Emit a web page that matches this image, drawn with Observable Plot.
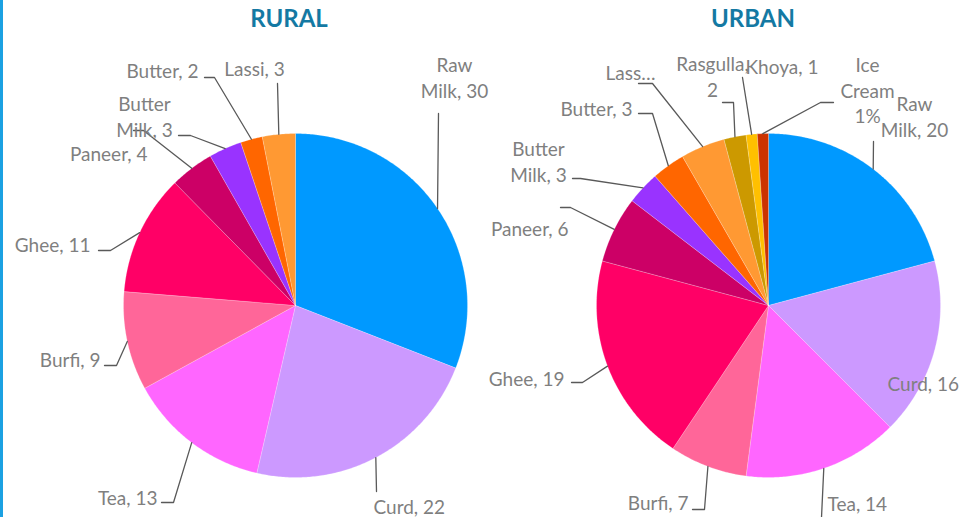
<!DOCTYPE html>
<html><head><meta charset="utf-8">
<script src="https://cdn.jsdelivr.net/npm/d3@7"></script>
<script src="https://cdn.jsdelivr.net/npm/@observablehq/plot@0.6"></script>
<style>
html,body{margin:0;padding:0;background:#fff;}
#wrap{position:relative;width:961px;height:517px;overflow:hidden;}
#edge{position:absolute;left:0;top:0;width:3px;height:517px;background:#1ba1e2;}
#wrap svg{position:absolute;left:0;top:0;}
</style></head><body><div id="wrap"><div id="edge"></div></div>
<script>
// ---- data ----
const panelTitles = ["RURAL", "URBAN"];
const ruralCategories = ["Raw Milk","Curd","Tea","Burfi","Ghee","Paneer","Butter Milk","Butter","Lassi"];
const ruralValues = [30,22,13,9,11,4,3,2,3];
const ruralLabels = ["Raw\nMilk, 30","Curd, 22","Tea, 13","Burfi, 9","Ghee, 11","Paneer, 4","Butter\nMilk, 3","Butter, 2","Lassi, 3"];
const urbanCategories = ["Raw Milk","Curd","Tea","Burfi","Ghee","Paneer","Butter Milk","Butter","Lassi","Rasgulla","Khoya","Ice Cream"];
const urbanValues = [20,16,14,7,19,6,3,3,4,2,1,1];
const urbanLabels = ["Raw\nMilk, 20","Curd, 16","Tea, 14","Burfi, 7","Ghee, 19","Paneer, 6","Butter\nMilk, 3","Butter, 3","Lass…","Rasgulla,\n2","Khoya, 1","Ice\nCream\n1%"];

// ---- styles ----
const categoryColors = {
  "Raw Milk":"#0099ff","Curd":"#cc99ff","Tea":"#ff66ff","Burfi":"#ff6699","Ghee":"#ff0066",
  "Paneer":"#cc0066","Butter Milk":"#9933ff","Butter":"#ff6600","Lassi":"#ff9933",
  "Rasgulla":"#cc9900","Khoya":"#ffc000","Ice Cream":"#cc3300"
};
const FONT = "Lato, 'Open Sans', sans-serif";
const LABEL_SIZE = 19, TITLE_SIZE = 24;

// ---- layout (pie placement and Excel-style label placement) ----
const ruralLabelLayout = [
  {x:454, y:76, anchor:"middle", lx:438, ly:113, stub:0},
  {x:373, y:505, anchor:"start", lx:376, ly:491, stub:0},
  {x:157, y:496, anchor:"end", lx:161, ly:502, stub:12},
  {x:100, y:358, anchor:"end", lx:104, ly:365, stub:12},
  {x:90, y:243, anchor:"end", lx:98, ly:250, stub:12},
  {x:147, y:152, anchor:"end", lx:133, ly:130, stub:10},
  {x:144, y:115.5, anchor:"middle", lx:178, ly:135, stub:12},
  {x:198, y:69, anchor:"end", lx:204, ly:77, stub:10},
  {x:254, y:67, anchor:"middle", lx:277, ly:83, stub:0}
];
const urbanLabelLayout = [
  {x:914, y:115, anchor:"middle", lx:873, ly:141, stub:0},
  {x:887, y:382, anchor:"start", lx:null},
  {x:827, y:502, anchor:"start", lx:821, ly:517, stub:0},
  {x:688, y:501, anchor:"end", lx:692, ly:509, stub:12},
  {x:564, y:377, anchor:"end", lx:571, ly:382, stub:11},
  {x:568, y:227, anchor:"end", lx:560, ly:207, stub:10},
  {x:538, y:160.5, anchor:"middle", lx:572, ly:178, stub:8},
  {x:632, y:107, anchor:"end", lx:638, ly:113, stub:14},
  {x:655, y:71, anchor:"end", lx:638, ly:83, stub:14},
  {x:712, y:75.5, anchor:"middle", lx:722, ly:102, stub:11},
  {x:745, y:65, anchor:"start", lx:742, ly:77, stub:0},
  {x:867, y:89, anchor:"middle", lx:833, ly:102, stub:-13}
];
const pies = [
  {title:panelTitles[0], cats:ruralCategories, values:ruralValues, labels:ruralLabels, layout:ruralLabelLayout, cx:295, cy:305, r:172, tx:288.5, ty:19},
  {title:panelTitles[1], cats:urbanCategories, values:urbanValues, labels:urbanLabels, layout:urbanLabelLayout, cx:768, cy:305, r:172, tx:752.5, ty:19}
];

// ---- build mark data from the values ----
const slices = [], leaders = [], texts = [], titles = [];
pies.forEach((p, pi) => {
  titles.push({x:p.tx, y:p.ty, text:p.title});
  const arcs = d3.pie().sort(null).value(d => d)(p.values);
  arcs.forEach((a, i) => {
    const key = pi + "-" + i;
    const fill = categoryColors[p.cats[i]];
    const n = Math.max(2, Math.ceil((a.endAngle - a.startAngle) / 0.01));
    slices.push({key, fill, x:p.cx, y:p.cy});
    for (let k = 0; k <= n; k++) {
      const t = a.startAngle + (a.endAngle - a.startAngle) * k / n;
      slices.push({key, fill, x:p.cx + p.r * Math.sin(t), y:p.cy - p.r * Math.cos(t)});
    }
    slices.push({key, fill, x:p.cx, y:p.cy});
    const L = p.layout[i];
    const mid = (a.startAngle + a.endAngle) / 2;
    if (L.lx != null) {
      leaders.push({key, x:p.cx + p.r * Math.sin(mid), y:p.cy - p.r * Math.cos(mid)});
      if (L.stub) leaders.push({key, x:L.lx + L.stub, y:L.ly});
      leaders.push({key, x:L.lx, y:L.ly});
    }
    texts.push({x:L.x, y:L.y, anchor:L.anchor, text:p.labels[i]});
  });
});

const chart = Plot.plot({
  width:961, height:517, margin:0,
  x:{domain:[0,961], range:[0,961], axis:null},
  y:{domain:[0,517], range:[0,517], axis:null},
  color:{type:"identity"},
  style:{background:"transparent", fontFamily:FONT, overflow:"visible"},
  marks:[
    Plot.line(slices, {x:"x", y:"y", z:"key", fill:"fill", stroke:"white", strokeWidth:0.3, strokeOpacity:0.7, curve:"linear"}),
    Plot.line(leaders, {x:"x", y:"y", z:"key", stroke:"#595959", strokeWidth:1.3, curve:"linear"}),
    ...["start","middle","end"].map(an => Plot.text(texts.filter(t => t.anchor === an), {
      x:"x", y:"y", text:"text", textAnchor:an, lineAnchor:"middle", lineHeight:1.35,
      fontSize:LABEL_SIZE, fill:"#7f7f7f"
    })),
    Plot.text(titles, {x:"x", y:"y", text:"text", fontSize:TITLE_SIZE, fontWeight:"bold", fill:"#1479a3"})
  ]
});
document.getElementById("wrap").appendChild(chart);
</script>
</body></html>
